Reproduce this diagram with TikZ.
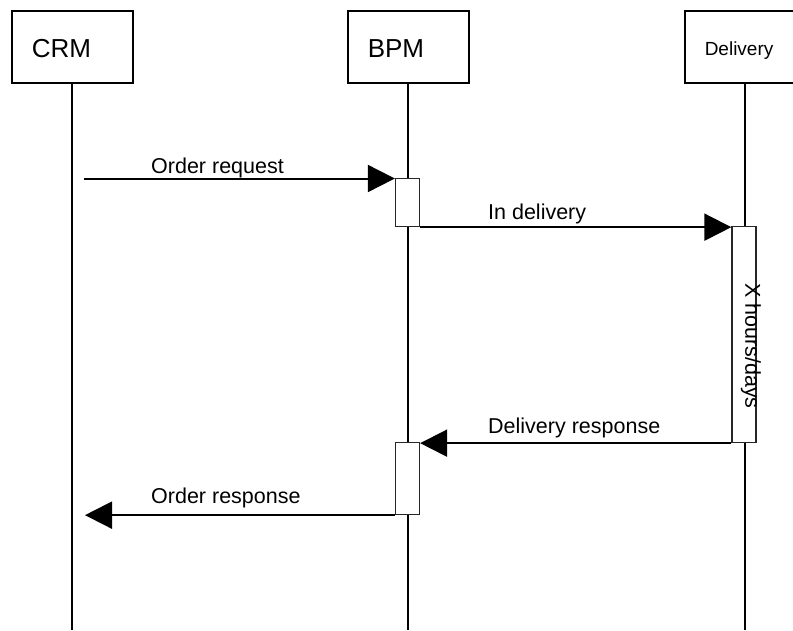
\documentclass[tikz,border=0pt]{standalone}
\usepackage{fontspec}
\setmainfont{Liberation Sans}
\usetikzlibrary{arrows.meta}
\begin{document}
\begin{tikzpicture}[x=1pt,y=-1pt,
  actor/.style={draw, line width=1.5pt, anchor=north west, minimum width=121pt,
    minimum height=72pt, inner xsep=20pt, inner ysep=0pt, text width=81pt, align=left, text depth=0pt},
  bigtxt/.style={font=\fontsize{26}{30}\selectfont, text height=22pt},
  smalltxt/.style={font=\fontsize{19}{22}\selectfont, text height=18pt},
  life/.style={line width=2pt},
  act/.style={draw=black!85, fill=white, line width=1.3pt, minimum width=24pt, inner sep=0pt},
  msg/.style={line width=2pt, -{Triangle[length=27pt,width=27pt]}},
  lbl/.style={inner sep=0pt, font=\fontsize{21.5}{24}\selectfont}]
\useasboundingbox (0,0) rectangle (793,630);
\clip (0,0) rectangle (793,630);
\fill[white] (0,0) rectangle (793,630);
% actors
\node[actor, bigtxt] (crm) at (11,10) {CRM};
\node[actor, bigtxt] (bpm) at (347,10) {BPM};
\node[actor, smalltxt] (dlv) at (684,10) {Delivery};
% lifeline ends
\coordinate (crmend) at (crm.south |- 0,630);
\coordinate (bpmend) at (bpm.south |- 0,630);
\coordinate (dlvend) at (dlv.south |- 0,630);
\draw[life] (crm.south) -- (crmend);
\draw[life] (bpm.south) -- (bpmend);
\draw[life] (dlv.south) -- (dlvend);
% activations
\node[act, minimum height=48pt] (act1) at (407.5,202.5) {};
\node[act, minimum height=216pt] (dact) at (744,334.5) {};
\node[act, minimum height=72pt] (act2) at (407.5,478.5) {};
% free ends
\coordinate (start1) at (84,178.5);
\coordinate (end4) at (85,514.5);
% messages
\draw[msg] (start1) -- (start1 -| act1.west);
\draw[msg] (act1.south east) -- (act1.south east -| dact.west);
\draw[msg] (dact.south west) -- (dact.south west -| act2.east);
\draw[msg] (act2.south west) -- (act2.south west -| end4);
% labels
\node[lbl, anchor=base west] (l1) at (151,173) {Order request};
\node[lbl, anchor=base west] (l2) at (488,219) {In delivery};
\node[lbl, anchor=base west] (l3) at (488,433) {Delivery response};
\node[lbl, anchor=base west] (l4) at (151,503) {Order response};
\node[lbl, rotate=-90] (xh) at (751,346) {X hours/days};
\end{tikzpicture}
\end{document}
